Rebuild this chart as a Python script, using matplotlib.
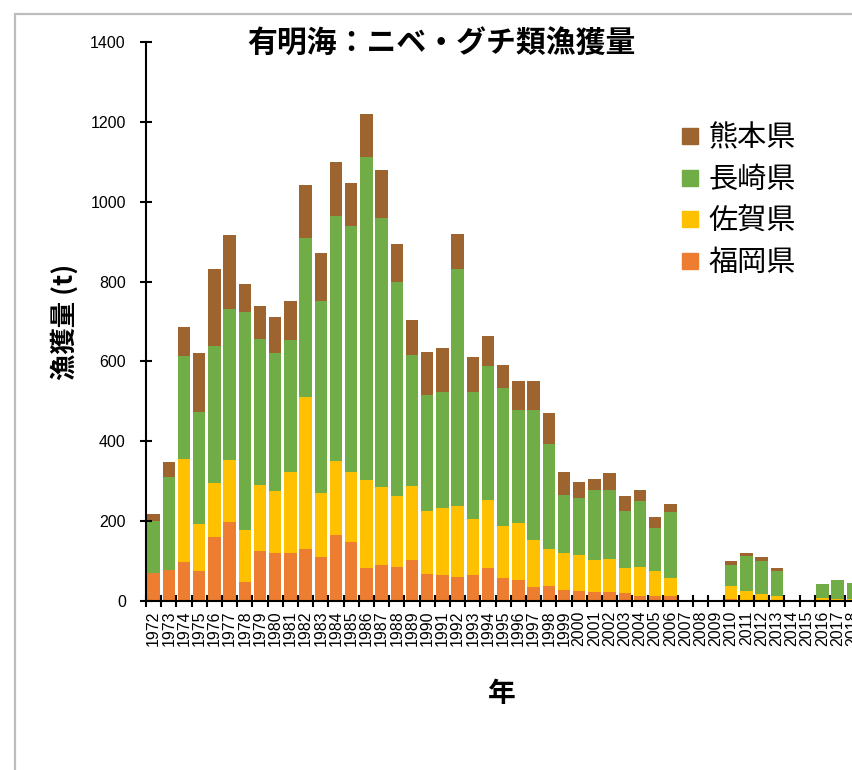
import numpy as np
import matplotlib
matplotlib.use("Agg")
import matplotlib.pyplot as plt
from matplotlib.lines import Line2D
from matplotlib.patches import Rectangle

plt.rcParams['font.family'] = ['Liberation Sans', 'Noto Sans CJK JP', 'DejaVu Sans']

# 年別・県別のニベ・グチ類漁獲量 (t)
years = list(range(1972, 2019))
fukuoka = [69, 77, 98, 75, 160, 199, 47, 126, 121, 121, 131, 111, 165, 147, 82, 90,
           85, 103, 68, 65, 59, 65, 82, 58, 53, 34, 38, 28, 25, 22, 22, 19, 13, 13,
           13, 0, 0, 0, 5, 3, 2, 1, 0, 0, 1, 1, 1]
saga = [0, 0, 257, 119, 135, 154, 132, 165, 154, 201, 381, 159, 186, 177, 221, 195,
        179, 185, 158, 169, 178, 140, 171, 131, 143, 119, 91, 91, 89, 81, 83, 63, 73,
        62, 44, 0, 0, 0, 33, 22, 15, 12, 0, 0, 6, 4, 4]
nagasaki = [132, 234, 259, 280, 343, 379, 546, 366, 345, 332, 397, 481, 614, 616,
            808, 673, 536, 327, 291, 289, 594, 318, 336, 345, 282, 325, 263, 146, 143,
            175, 173, 143, 165, 109, 167, 0, 0, 0, 52, 88, 84, 62, 0, 0, 36, 48, 41]
kumamoto = [16, 36, 73, 148, 193, 185, 70, 83, 91, 98, 132, 121, 134, 108, 109, 122,
            95, 89, 106, 111, 87, 87, 75, 57, 74, 74, 79, 59, 40, 28, 43, 39, 27, 26,
            19, 0, 0, 0, 11, 8, 8, 8, 0, 0, 0, 0, 0]

prefs = ['福岡県', '佐賀県', '長崎県', '熊本県']
colors = ['#ED7D31', '#FFC000', '#70AD47', '#9E6430']
series = [fukuoka, saga, nagasaki, kumamoto]

fig = plt.figure(figsize=(8.52, 7.7), dpi=100)
# グラフ外枠
fig.patches.append(Rectangle((15 / 852, -0.1), 1.2, 0.1 + 1 - 14 / 770,
                             transform=fig.transFigure, fill=False,
                             edgecolor='#BDBDBD', linewidth=1.6))
ax = fig.add_axes([146 / 852, 1 - 601 / 770, 15.2 * len(years) / 852, 559 / 770])

x = np.arange(len(years))
bottom = np.zeros(len(years))
for name, vals, c in zip(prefs, series, colors):
    ax.bar(x, vals, width=0.81, bottom=bottom, color=c, label=name)
    bottom += np.array(vals)

ax.set_xlim(-0.5, len(years) - 0.5)
ax.set_ylim(0, 1400)
ax.set_yticks(range(0, 1401, 200))
ax.set_xticks(x)
ax.set_xticklabels([str(y) for y in years], rotation=90, fontsize=11.5)
ax.set_xticks(np.arange(len(years) + 1) - 0.5, minor=True)
ax.tick_params(axis='x', which='major', length=0, pad=7)
ax.tick_params(axis='x', which='minor', direction='inout', length=9, width=1.5)
ax.tick_params(axis='y', direction='inout', length=9, width=1.5, labelsize=11.5, pad=10)

for s in ['top', 'right']:
    ax.spines[s].set_visible(False)
for s in ['left', 'bottom']:
    ax.spines[s].set_linewidth(1.5)

fig.text(441 / 852, 1 - 44 / 770, '有明海：ニベ・グチ類漁獲量', ha='center', va='center',
         fontsize=21.5, fontweight='bold', family=['Noto Sans CJK JP', 'DejaVu Sans'])
fig.text(65 / 852, 1 - 322 / 770, '漁獲量 (t)', ha='center', va='center', rotation=90,
         fontsize=19, fontweight='bold', family=['Noto Sans CJK JP', 'DejaVu Sans'])
fig.text(502 / 852, 1 - 694 / 770, '年', ha='center', va='center',
         fontsize=20, fontweight='bold', family=['Noto Sans CJK JP', 'DejaVu Sans'])

handles = [Line2D([], [], marker='s', linestyle='none', markersize=12,
                  markerfacecolor=c, markeredgecolor=c) for c in colors[::-1]]
ax.legend(handles, prefs[::-1], loc='upper left', bbox_to_anchor=(652 / 852, 1 - 97 / 770),
          bbox_transform=fig.transFigure, frameon=False, handlelength=0.8,
          handletextpad=0.25, labelspacing=0.4,
          prop={'family': 'Noto Sans CJK JP', 'size': 21})

fig.savefig('out.png', dpi=100)
